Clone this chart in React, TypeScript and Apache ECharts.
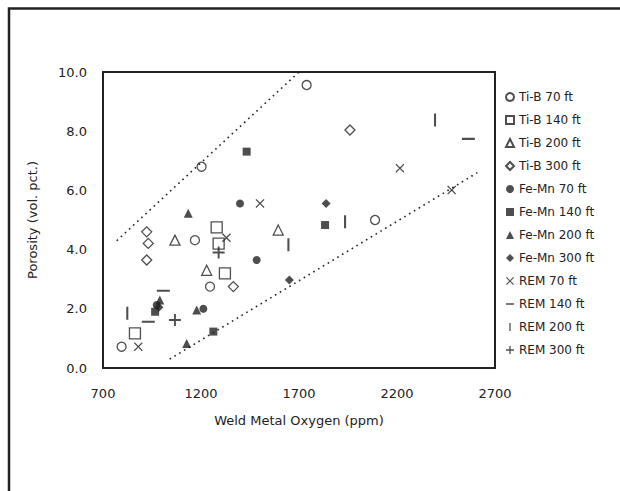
import React, { useEffect, useRef } from "react";
import * as echarts from "echarts";

const xTicks = [700, 1200, 1700, 2200, 2700];
const seriesNames = [
  "Ti-B 70 ft", "Ti-B 140 ft", "Ti-B 200 ft", "Ti-B 300 ft",
  "Fe-Mn 70 ft", "Fe-Mn 140 ft", "Fe-Mn 200 ft", "Fe-Mn 300 ft",
  "REM 70 ft", "REM 140 ft", "REM 200 ft", "REM 300 ft",
];
const tiB70 = [[1739, 9.56], [1203, 6.8], [2088, 5.0], [1169, 4.32], [795, 0.72], [1246, 2.75]];
const tiB140 = [[1280, 4.75], [1290, 4.2], [863, 1.17], [1322, 3.2]];
const tiB200 = [[1067, 4.32], [1594, 4.66], [1229, 3.3]];
const tiB300 = [[923, 3.65], [923, 4.6], [931, 4.21], [1365, 2.75], [1960, 8.04]];
const feMn70 = [[1399, 5.56], [974, 2.13], [1212, 2.0], [1484, 3.65]];
const feMn140 = [[1433, 7.31], [1833, 4.83], [1263, 1.23], [966, 1.9]];
const feMn200 = [[1135, 5.23], [1127, 0.83], [990, 2.3], [1178, 1.96]];
const feMn300 = [[1651, 2.97], [1838, 5.56], [985, 2.05]];
const rem70 = [[2215, 6.75], [2479, 6.01], [1501, 5.56], [880, 0.72], [1330, 4.4]];
const rem140 = [[2564, 7.74], [1008, 2.61], [931, 1.56]];
const rem200 = [[2394, 8.38], [1935, 4.94], [824, 1.85], [1646, 4.16]];
const rem300 = [[1067, 1.62], [1290, 3.9]];
const upperBound = [[770, 4.3], [1700, 10]];
const lowerBound = [[1040, 0.3], [2610, 6.6]];

const INK = "#222";
const FONT = "DejaVu Sans";

const X_PATH = "path://M0,1L1,0L5,4L9,0L10,1L6,5L10,9L9,10L5,6L1,10L0,9L4,5Z";
const DASH_PATH = "path://M0,0L0.01,0L0,0.01ZM10,10L9.99,10L10,9.99ZM0,4.2H10V5.8H0Z";
const BAR_PATH = "path://M0,0L0.01,0L0,0.01ZM10,10L9.99,10L10,9.99ZM4.2,0H5.8V10H4.2Z";
const PLUS_PATH = "path://M4.2,0H5.8V4.2H10V5.8H5.8V10H4.2V5.8H0V4.2H4.2Z";

export default function App() {
  const ref = useRef<HTMLDivElement>(null);
  useEffect(() => {
    if (!ref.current) return;
    const chart = echarts.init(ref.current, null, { renderer: "svg" });
    const open = (name: string, data: number[][], symbol: string, size: number) => ({
      name, type: "scatter", data, symbol, symbolSize: size,
      itemStyle: { color: "#fff", borderColor: INK, borderWidth: 1.3 },
    });
    const filled = (name: string, data: number[][], symbol: string, size: number) => ({
      name, type: "scatter", data, symbol, symbolSize: size,
      itemStyle: { color: INK },
    });
    const dotted = (data: number[][]) => ({
      type: "line", data, symbol: "none", silent: true,
      lineStyle: { color: INK, width: 1.6, type: [1.6, 4] },
    });
    const series = [
      dotted(upperBound),
      dotted(lowerBound),
      open(seriesNames[0], tiB70, "circle", 9),
      open(seriesNames[1], tiB140, "rect", 11),
      open(seriesNames[2], tiB200, "triangle", 10),
      open(seriesNames[3], tiB300, "diamond", 10),
      filled(seriesNames[4], feMn70, "circle", 8),
      filled(seriesNames[5], feMn140, "rect", 8),
      filled(seriesNames[6], feMn200, "triangle", 9),
      filled(seriesNames[7], feMn300, "diamond", 9),
      filled(seriesNames[8], rem70, X_PATH, 9),
      filled(seriesNames[9], rem140, DASH_PATH, 13),
      filled(seriesNames[10], rem200, BAR_PATH, 13),
      filled(seriesNames[11], rem300, PLUS_PATH, 12),
    ];
    chart.setOption({
      animation: false,
      textStyle: { fontFamily: FONT, color: INK },
      graphic: [
        {
          type: "polyline",
          shape: { points: [[9, 491], [9, 8.5], [620, 8.5]] },
          style: { stroke: INK, lineWidth: 2.5, fill: "none" },
        },
      ],
      grid: {
        left: 103, top: 72, width: 392, height: 296,
        show: true, borderColor: INK, borderWidth: 2, backgroundColor: "transparent",
      },
      legend: {
        data: seriesNames,
        orient: "vertical",
        left: 505, top: 91,
        padding: 0,
        itemWidth: 8, itemHeight: 8, itemGap: 11,
        textStyle: { fontFamily: FONT, fontSize: 12, lineHeight: 12, color: INK },
      },
      xAxis: {
        type: "value", min: 700, max: 2700,
        name: "Weld Metal Oxygen (ppm)", nameLocation: "middle", nameGap: 46,
        nameTextStyle: { fontFamily: FONT, fontSize: 13, color: INK },
        axisLine: { show: false }, axisTick: { show: false }, splitLine: { show: false },
        axisLabel: {
          customValues: xTicks, margin: 19,
          fontFamily: FONT, fontSize: 13, color: INK,
          formatter: (v: number) => String(v),
        },
      },
      yAxis: {
        type: "value", min: 0, max: 10, interval: 2,
        name: "Porosity (vol. pct.)", nameLocation: "middle", nameGap: 64,
        nameTextStyle: { fontFamily: FONT, fontSize: 13, color: INK },
        axisLine: { show: false }, axisTick: { show: false }, splitLine: { show: false },
        axisLabel: {
          margin: 16, fontFamily: FONT, fontSize: 13, color: INK,
          formatter: (v: number) => v.toFixed(1),
        },
      },
      series,
    });
    return () => chart.dispose();
  }, []);
  return (
    <div
      ref={ref}
      style={{ position: "fixed", left: 0, top: 0, width: 620, height: 491, background: "#fff" }}
    />
  );
}
